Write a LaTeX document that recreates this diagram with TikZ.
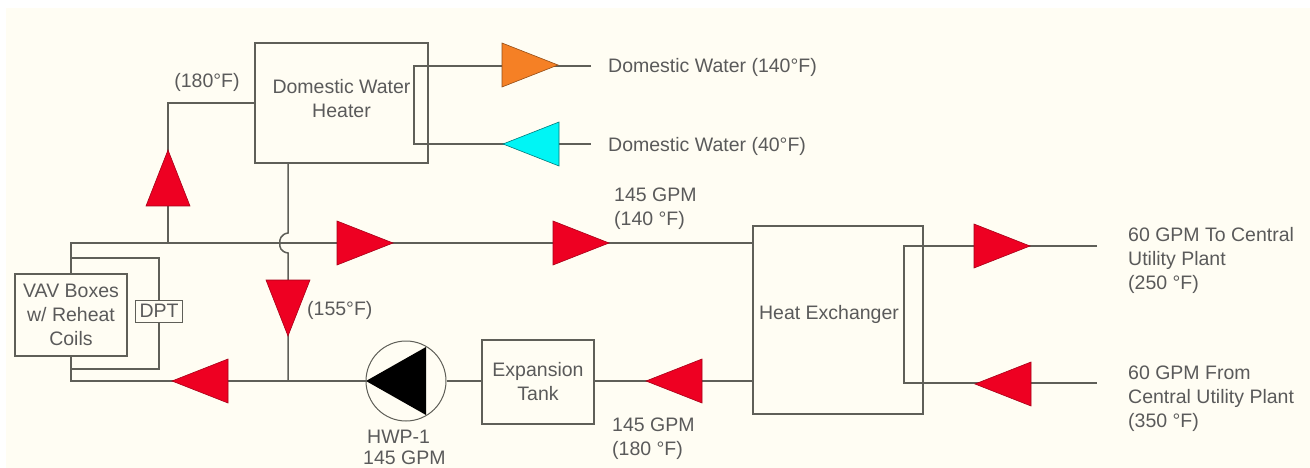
\documentclass[tikz,border=0pt]{standalone}
\usepackage{fontspec}
\setmainfont{Liberation Sans}
\usetikzlibrary{shapes.geometric,backgrounds}
\definecolor{paper}{HTML}{FFFDF3}
\definecolor{pipe}{HTML}{5F5F58}
\definecolor{inktext}{HTML}{5A5A5A}
\definecolor{hotred}{HTML}{EE0022}
\definecolor{warmorange}{HTML}{F58025}
\definecolor{coldcyan}{HTML}{00F5F5}

\begin{document}
\begin{tikzpicture}[
  x = 1pt, y = -1pt,
  every node/.style = {font = \fontsize{19.5}{24}\selectfont, text = inktext, align = center, inner sep = 0pt},
  unit/.style = {draw = pipe, line width = 1.5pt},
  sidetext/.style = {align = left, anchor = west},
  flow/.style = {isosceles triangle, isosceles triangle stretches, anchor = apex, draw = hotred!70!black,
                 fill = hotred, line width = .6pt, outer sep = 0pt, minimum width = 44pt, minimum height = 56pt},
  pipeline/.style = {draw = pipe, line width = 1.5pt},
  ]
  \useasboundingbox (0,0) rectangle (1310,468);
  \begin{scope}[on background layer]
    \fill[white] (0,0) rectangle (1310,468);
    \fill[paper] (6,8) rectangle (1310,468);
  \end{scope}

  \node[unit, minimum width = 173pt, minimum height = 120pt] (heater) at (341.5,103) {};
  \node (heatertext) at (341.5,99) {Domestic Water\\Heater};
  \node[unit, minimum width = 112pt, minimum height = 82pt] (vav) at (71,315) {VAV Boxes\\w/ Reheat\\Coils};
  \node[unit, minimum width = 112pt, minimum height = 84pt] (tank) at (538,382) {Expansion\\Tank};
  \node[unit, minimum width = 170pt, minimum height = 188pt] (exchanger) at (838,320) {};
  \node (exchangertext) at (829,314) {Heat Exchanger};
  \node[unit, fill = paper, line width = 1pt, minimum width = 47pt, minimum height = 22pt] (dpt) at (159,311) {DPT};
  \node[unit, circle, line width = 1pt, minimum size = 80pt] (pump) at (406,381) {};
  \node[isosceles triangle, isosceles triangle stretches, shape border rotate = 180, anchor = apex,
        fill = black, outer sep = 0pt, minimum width = 68pt, minimum height = 60pt] (impeller) at (366,381) {};

  \node[flow, shape border rotate = 90] (riser) at (168,150) {};
  \node[flow] (supplyone) at (393,243) {};
  \node[flow] (supplytwo) at (609,243) {};
  \node[flow, shape border rotate = 270] (bypass) at (288,336) {};
  \node[flow, shape border rotate = 180] (returnflow) at (172,381) {};
  \node[flow, shape border rotate = 180] (tankflow) at (646,381) {};
  \node[flow] (plantout) at (1030,246) {};
  \node[flow, shape border rotate = 180] (plantin) at (975,384) {};
  \node[flow, draw = warmorange!60!black, fill = warmorange] (hotdomestic) at (558,65) {};
  \node[flow, shape border rotate = 180, draw = coldcyan!50!black, fill = coldcyan] (colddomestic) at (503,144) {};

  \node (riserlabel) at (207,82) {(180°F)};
  \node[sidetext] (bypasslabel) at (307,310) {(155°F)};
  \node[sidetext] (hotlabel) at (608,67) {Domestic Water (140°F)};
  \node[sidetext] (coldlabel) at (608,146) {Domestic Water (40°F)};
  \node[sidetext] (supplylabel) at (614,209) {145 GPM\\(140 °F)};
  \node[sidetext] (tanklabel) at (612,439) {145 GPM\\(180 °F)};
  \node[sidetext] (pumplabel) at (367,447) {HWP-1\\[-3pt]\hspace*{-4pt}145 GPM};
  \node[sidetext] (outlabel) at (1128,260.5) {60 GPM To Central\\Utility Plant\\(250 °F)};
  \node[sidetext] (inlabel) at (1128,399) {60 GPM From\\Central Utility Plant\\(350 °F)};

  \coordinate (hotstart) at (414,66);
  \coordinate (hotend) at (591,66);
  \coordinate (coldstart) at (414,144);
  \coordinate (coldend) at (591,144);
  \coordinate (supplyend) at (753,243);
  \coordinate (returnstart) at (753,381);
  \coordinate (returntee) at (288,381);
  \coordinate (riserbase) at (168,243);
  \coordinate (riserturn) at (255,103);
  \coordinate (jumptop) at (288,233);
  \coordinate (jumpbottom) at (288,253);
  \coordinate (loopstart) at (71,258);
  \coordinate (loopend) at (71,369);
  \coordinate (plantoutstart) at (904,246);
  \coordinate (plantoutend) at (1097,246);
  \coordinate (plantinstart) at (904,383);
  \coordinate (plantinend) at (1097,383);

  \begin{scope}[on background layer]
    \draw[pipeline] (hotend) -- (hotstart) -- (coldstart) -- (coldend);
    \draw[pipeline] (plantoutend) -- (plantoutstart) -- (plantinstart) -- (plantinend);
    \draw[pipeline] (vav.north) |- (supplyend);
    \draw[pipeline] (vav.south) |- (pump.west);
    \draw[pipeline] (riserbase) |- (riserturn);
    \draw[pipeline] (loopstart) -| (dpt.north);
    \draw[pipeline] (dpt.south) |- (loopend);
    \draw[pipeline] (heater.south -| returntee) -- (jumptop)
      .. controls (281,234) and (279,240) .. (280,243)
      .. controls (279,247) and (281,252) .. (jumpbottom) -- (returntee);
    \draw[pipeline] (pump.east) -- (pump.east -| tank.west);
    \draw[pipeline] (tank.east |- returnstart) -- (returnstart);
  \end{scope}
\end{tikzpicture}
\end{document}
